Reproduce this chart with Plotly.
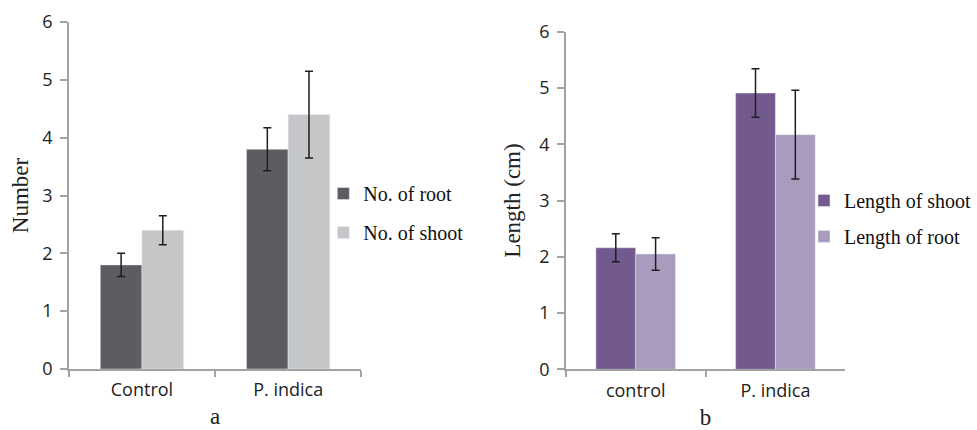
import plotly.graph_objects as go

# ---- data ----
cats_a = ["Control", "P. indica"]
root_num = [1.8, 3.8]
root_num_err = [0.2, 0.37]
shoot_num = [2.4, 4.4]
shoot_num_err = [0.25, 0.75]

cats_b = ["control", "P. indica"]
shoot_len = [2.16, 4.91]
shoot_len_err = [0.25, 0.43]
root_len = [2.05, 4.17]
root_len_err = [0.29, 0.79]

y_ticks = [0, 1, 2, 3, 4, 5, 6]

err_style = dict(type="data", color="#1e1e1e", thickness=1.5, width=4)

fig = go.Figure()
fig.add_trace(go.Bar(x=cats_a, y=root_num, name="No. of root", marker_color="#5c5d60",
                     error_y=dict(array=root_num_err, **err_style), xaxis="x", yaxis="y",
                     legend="legend", legendgroup="a1"))
fig.add_trace(go.Bar(x=cats_a, y=shoot_num, name="No. of shoot", marker_color="#c5c6c8",
                     error_y=dict(array=shoot_num_err, **err_style), xaxis="x", yaxis="y",
                     legend="legend", legendgroup="a2"))
fig.add_trace(go.Bar(x=cats_b, y=shoot_len, name="Length of shoot", marker_color="#725a8f",
                     error_y=dict(array=shoot_len_err, **err_style), xaxis="x2", yaxis="y2",
                     legend="legend2", legendgroup="b1"))
fig.add_trace(go.Bar(x=cats_b, y=root_len, name="Length of root", marker_color="#a99bbd",
                     error_y=dict(array=root_len_err, **err_style), xaxis="x2", yaxis="y2",
                     legend="legend2", legendgroup="b2"))

W, H = 977, 430
sans = "Open Sans, sans-serif"
serif = "Liberation Serif, Times New Roman, serif"
axis_common = dict(showline=True, linecolor="#a3a3a3", linewidth=1.5, ticks="outside",
                   tickcolor="#a3a3a3", tickwidth=1.5, showgrid=False, zeroline=False,
                   automargin=False, tickfont=dict(family=sans, size=18, color="#222"))

def xax(domain, anchor, title, standoff):
    return dict(domain=domain, anchor=anchor, type="category", tickson="boundaries",
                ticklen=6, ticklabelstandoff=4,
                title=dict(text=title, font=dict(family=serif, size=23, color="#222"), standoff=standoff),
                **axis_common)

def yax(domain, anchor, title, standoff):
    return dict(domain=domain, anchor=anchor, range=[0, 6], tickvals=y_ticks, ticklen=7,
                ticklabelstandoff=4,
                title=dict(text=title, font=dict(family=serif, size=23, color="#222"), standoff=standoff),
                **axis_common)

legend_font = dict(family=serif, size=20, color="#111")
fig.update_layout(
    width=W, height=H, margin=dict(l=0, r=0, t=0, b=0),
    paper_bgcolor="white", plot_bgcolor="white",
    barmode="group", bargap=0.43, bargroupgap=0,
    xaxis=xax([69 / W, 362 / W], "y", "a", 8),
    yaxis=yax([61 / H, 408 / H], "x", "Number", 7),
    xaxis2=xax([567 / W, 847 / W], "y2", "b", 14),
    yaxis2=yax([60.7 / H, 398.3 / H], "x2", "Length (cm)", 12),
    legend=dict(x=324 / W, y=1 - 174 / H, xanchor="left", yanchor="top", font=legend_font,
                bgcolor="rgba(0,0,0,0)", tracegroupgap=10, itemclick=False),
    legend2=dict(x=806 / W, y=1 - 181 / H, xanchor="left", yanchor="top", font=legend_font,
                 bgcolor="rgba(0,0,0,0)", tracegroupgap=7, itemclick=False),
)

fig.write_html("out.html", config={"displayModeBar": False},
               post_script="document.body.style.margin='0';document.body.style.overflow='hidden';")
